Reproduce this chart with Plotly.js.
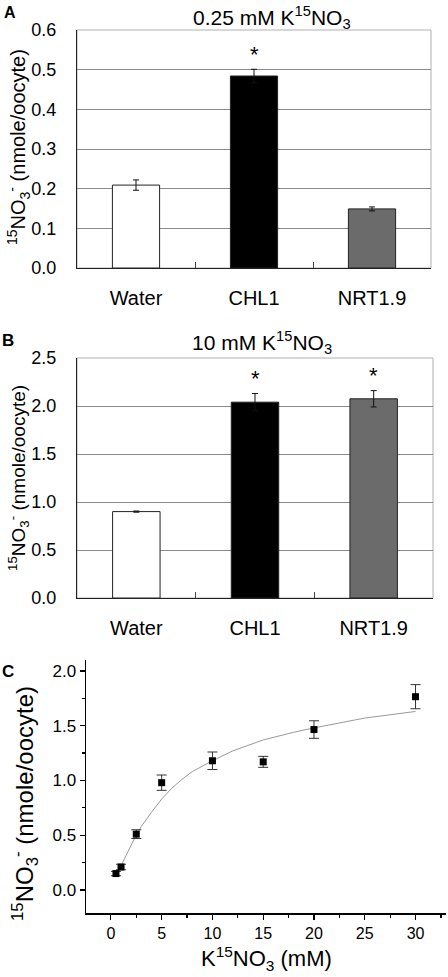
<!DOCTYPE html>
<html>
<head>
<meta charset="utf-8">
<script src="https://cdn.plot.ly/plotly-3.0.1.min.js"></script>
<style>html,body{margin:0;padding:0;background:#fff;}#chart{width:448px;height:977px;}</style>
</head>
<body>
<div id="chart"></div>
<script>
// ---- data ----
const cats = ['Water', 'CHL1', 'NRT1.9'];
const valsA = [0.209, 0.484, 0.149];
const errA = [0.013, 0.017, 0.005];
const valsB = [0.90, 2.04, 2.075];
const errB = [0.006, 0.09, 0.085];
const barColors = ['#ffffff', '#000000', '#6b6b6b'];
const sigA = ['', '*', ''];
const sigB = ['', '*', '*'];
const concX = [0.5, 1, 2.5, 5, 10, 15, 20, 30];
const uptakeY = [0.15, 0.21, 0.51, 0.98, 1.18, 1.17, 1.465, 1.765];
const uptakeErr = [0.02, 0.025, 0.04, 0.07, 0.08, 0.05, 0.08, 0.11];
const fitX = [1, 1.5, 2, 2.5, 3, 4, 5, 6, 7, 8, 10, 12, 15, 18, 20, 25, 30];
const fitY = [0.22, 0.32, 0.41, 0.50, 0.58, 0.71, 0.83, 0.93, 1.01, 1.08, 1.18, 1.27, 1.37, 1.44, 1.48, 1.57, 1.63];
const titleA = '0.25 mM K<sup>15</sup>NO<sub>3</sub>';
const titleB = '10 mM K<sup>15</sup>NO<sub>3</sub>';
const yTitle = '<sup>15</sup>NO<sub>3</sub><sup>-</sup> (nmole/oocyte)';
const xTitleC = 'K<sup>15</sup>NO<sub>3</sub> (mM)';
const ticksC = [0, 5, 10, 15, 20, 25, 30];

const W = 448, H = 977;
const px = v => v / W;
const py = v => 1 - v / H;
const FONT = 'Liberation Sans, Arial, sans-serif';

function barTrace(vals, errs, xa, ya) {
  return {
    type: 'bar', x: cats, y: vals, xaxis: xa, yaxis: ya, width: 0.4,
    marker: {color: barColors, line: {color: '#222', width: 1}},
    error_y: {type: 'data', array: errs, visible: true, color: '#111', thickness: 1, width: 3},
    showlegend: false, hoverinfo: 'skip'
  };
}

const traces = [
  barTrace(valsA, errA, 'x', 'y'),
  barTrace(valsB, errB, 'x2', 'y2'),
  {type: 'scatter', mode: 'lines', x: fitX, y: fitY, xaxis: 'x3', yaxis: 'y3',
   line: {color: '#9a9a9a', width: 1}, showlegend: false, hoverinfo: 'skip'},
  {type: 'scatter', mode: 'markers', x: concX, y: uptakeY, xaxis: 'x3', yaxis: 'y3',
   marker: {symbol: 'square', size: 7, color: '#000'},
   error_y: {type: 'data', array: uptakeErr, visible: true, color: '#333', thickness: 1, width: 5},
   showlegend: false, hoverinfo: 'skip'}
];

function catAxis(domain, anchor) {
  return {
    domain: domain, anchor: anchor, type: 'category', range: [-0.5, 2.5],
    showline: true, linecolor: '#222', linewidth: 1,
    ticks: 'inside', tickson: 'boundaries', ticklen: 6, tickcolor: '#444',
    tickfont: {family: FONT, size: 20, color: '#000'}, ticklabelstandoff: 12,
    showgrid: false, zeroline: false, fixedrange: true
  };
}
function valAxis(domain, anchor, range, dtick) {
  return {
    domain: domain, anchor: anchor, range: range, dtick: dtick, tickformat: '.1f',
    showline: true, linecolor: '#222', linewidth: 1,
    ticks: 'outside', ticklen: 16, tickcolor: 'rgba(0,0,0,0)',
    tickfont: {family: FONT, size: 18, color: '#000'},
    showgrid: true, gridcolor: '#8a8a8a', gridwidth: 1, zeroline: false, fixedrange: true
  };
}

const annotations = [];
function addAnn(o) {
  annotations.push(Object.assign({showarrow: false, font: {family: FONT, size: 20, color: '#000'}}, o));
}
// panel letters
addAnn({text: '<b>A</b>', xref: 'paper', yref: 'paper', x: px(10), y: py(12), xanchor: 'center', yanchor: 'middle', font: {family: FONT, size: 16, color: '#000'}});
addAnn({text: '<b>B</b>', xref: 'paper', yref: 'paper', x: px(8), y: py(340), xanchor: 'center', yanchor: 'middle', font: {family: FONT, size: 17, color: '#000'}});
addAnn({text: '<b>C</b>', xref: 'paper', yref: 'paper', x: px(8), y: py(671), xanchor: 'center', yanchor: 'middle', font: {family: FONT, size: 17, color: '#000'}});
// panel titles
addAnn({text: titleA, xref: 'paper', yref: 'paper', x: px(272), y: py(17), xanchor: 'center', yanchor: 'middle', font: {family: FONT, size: 21, color: '#000'}});
addAnn({text: titleB, xref: 'paper', yref: 'paper', x: px(262), y: py(342), xanchor: 'center', yanchor: 'middle', font: {family: FONT, size: 21, color: '#000'}});
// y titles
addAnn({text: yTitle, xref: 'paper', yref: 'paper', x: px(19), y: py(147), xanchor: 'center', yanchor: 'middle', textangle: -90, font: {family: FONT, size: 20, color: '#000'}});
addAnn({text: yTitle, xref: 'paper', yref: 'paper', x: px(18), y: py(478), xanchor: 'center', yanchor: 'middle', textangle: -90, font: {family: FONT, size: 19, color: '#000'}});
addAnn({text: yTitle, xref: 'paper', yref: 'paper', x: px(25), y: py(804), xanchor: 'center', yanchor: 'middle', textangle: -90, font: {family: FONT, size: 24, color: '#000'}});
addAnn({text: xTitleC, xref: 'paper', yref: 'paper', x: px(266), y: py(958), xanchor: 'center', yanchor: 'middle', font: {family: FONT, size: 22, color: '#000'}});
// significance stars
cats.forEach((c, i) => {
  if (sigA[i]) addAnn({text: sigA[i], xref: 'x', yref: 'y', x: c, y: valsA[i] + errA[i], yanchor: 'middle', yshift: 15, font: {family: FONT, size: 22, color: '#000'}});
  if (sigB[i]) addAnn({text: sigB[i], xref: 'x2', yref: 'y2', x: c, y: valsB[i] + errB[i], yanchor: 'middle', yshift: 15, font: {family: FONT, size: 22, color: '#000'}});
});

const boxLine = {color: '#b0b0b0', width: 1};
const shapes = [
  {type: 'rect', xref: 'x domain', yref: 'y domain', x0: 0, x1: 1, y0: 0, y1: 1, line: boxLine, layer: 'below'},
  {type: 'rect', xref: 'x2 domain', yref: 'y2 domain', x0: 0, x1: 1, y0: 0, y1: 1, line: boxLine, layer: 'below'}
];

const layout = {
  width: W, height: H, margin: {l: 0, r: 0, t: 0, b: 0},
  paper_bgcolor: '#fff', plot_bgcolor: '#fff', showlegend: false,
  font: {family: FONT, color: '#000'},
  xaxis: catAxis([px(77), px(431)], 'y'),
  yaxis: valAxis([py(268), py(30)], 'x', [0, 0.6], 0.1),
  xaxis2: catAxis([px(77), px(433)], 'y2'),
  yaxis2: valAxis([py(598), py(358)], 'x2', [0, 2.5], 0.5),
  xaxis3: {
    domain: [px(86), px(446)], anchor: 'y3', range: [-2.45, 33], tickvals: ticksC,
    showline: true, linecolor: '#000', linewidth: 1.5,
    ticks: 'outside', ticklen: 5, tickwidth: 1.2, tickcolor: '#000',
    minor: {dtick: 2.5, tick0: 0, ticks: 'outside', ticklen: 3, tickcolor: '#000', showgrid: false},
    tickfont: {family: FONT, size: 16, color: '#000'},
    showgrid: false, zeroline: false, fixedrange: true
  },
  yaxis3: {
    domain: [py(913), py(660)], anchor: 'x3', range: [-0.21, 2.1], dtick: 0.5, tick0: 0, tickformat: '.1f',
    showline: true, linecolor: '#000', linewidth: 1.5,
    ticks: 'outside', ticklen: 5, tickwidth: 1.2, tickcolor: '#000',
    minor: {dtick: 0.25, tick0: 0, ticks: 'outside', ticklen: 3, tickcolor: '#000', showgrid: false},
    tickfont: {family: FONT, size: 17, color: '#000'},
    showgrid: false, zeroline: false, fixedrange: true
  },
  annotations: annotations,
  shapes: shapes
};

Plotly.newPlot('chart', traces, layout, {displayModeBar: false, staticPlot: true});
</script>
</body>
</html>
